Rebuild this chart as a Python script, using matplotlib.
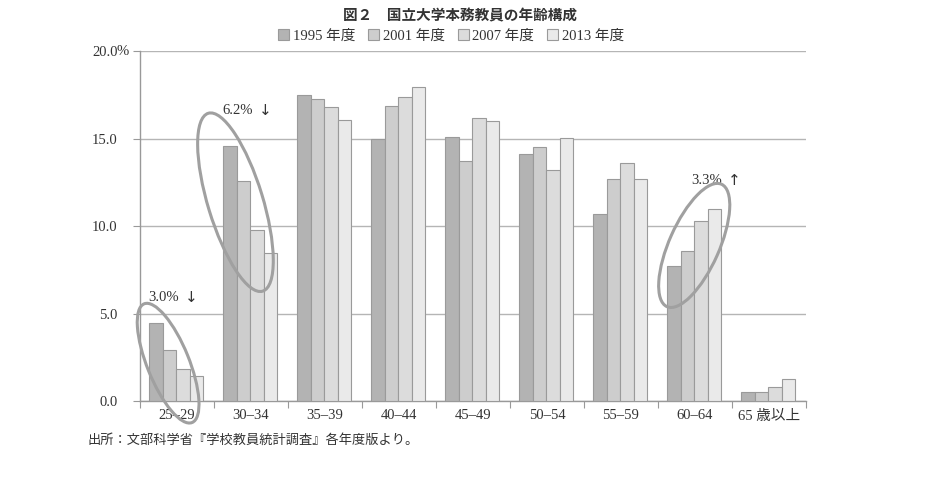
import matplotlib
matplotlib.use("Agg")
import matplotlib.pyplot as plt
import numpy as np
from matplotlib.patches import Ellipse, Patch
from matplotlib.transforms import ScaledTranslation, blended_transform_factory

plt.rcParams['font.family'] = ['Liberation Serif', 'Noto Sans CJK JP', 'DejaVu Sans']

categories = ["25–29", "30–34", "35–39", "40–44", "45–49", "50–54", "55–59", "60–64", "65 歳以上"]
series_names = ["1995 年度", "2001 年度", "2007 年度", "2013 年度"]
v1995 = [4.47, 14.60, 17.50, 15.00, 15.07, 14.15, 10.67, 7.71, 0.53]
v2001 = [2.95, 12.59, 17.26, 16.88, 13.75, 14.55, 12.67, 8.59, 0.53]
v2007 = [1.81, 9.81, 16.80, 17.37, 16.17, 13.24, 13.62, 10.29, 0.80]
v2013 = [1.45, 8.44, 16.06, 17.94, 16.02, 15.03, 12.69, 11.00, 1.26]
yticks = [0, 5, 10, 15, 20]
ytick_labels = ["0.0", "5.0", "10.0", "15.0", "20.0"]

colors = ["#b3b3b3", "#cdcdcd", "#dcdcdc", "#eaeaea"]
edge = "#9a9a9a"
tc = "#333333"

fig = plt.figure(figsize=(9.34, 4.88), dpi=100)
ax = fig.add_axes([0.1499, 0.178, 0.713, 0.717])

x = np.arange(len(categories))
bw = 0.183
for k, vals in enumerate([v1995, v2001, v2007, v2013]):
    ax.bar(x + (k - 1.5) * bw - 0.01, vals, width=bw, color=colors[k],
           edgecolor=edge, linewidth=0.8, zorder=3)

ax.set_xlim(-0.5, len(categories) - 0.5)
ax.set_ylim(0, 20)
ax.set_yticks(yticks)
ax.set_yticklabels(ytick_labels, fontsize=10.5, color=tc)
ax.yaxis.grid(True, color="#b5b5b5", linewidth=1.0, zorder=0)
ax.set_xticks(np.arange(len(categories) + 1) - 0.5)
ax.set_xticklabels([])
ax.set_xticks(x, minor=True)
ax.set_xticklabels(categories, minor=True, fontsize=10.5, color=tc)
ax.tick_params(axis='x', which='minor', length=0, pad=6)
ax.tick_params(axis='x', which='major', length=5, color="#999999", direction='out')
ax.tick_params(axis='y', length=5, color="#999999", pad=11)
for s in ["top", "right"]:
    ax.spines[s].set_visible(False)
for s in ["left", "bottom"]:
    ax.spines[s].set_color("#999999")
    ax.spines[s].set_linewidth(1.0)

# percent sign after the top tick label
pt = blended_transform_factory(ax.transAxes, ax.transData) + ScaledTranslation(-23.5 / 100, 0, fig.dpi_scale_trans)
ax.text(0, 20, "%", transform=pt, ha="left", va="center", fontsize=10.5, color=tc, clip_on=False)

# ellipses (center in data coords, size in inches)
def ell(xc, yc, w, h, ang):
    tr = fig.dpi_scale_trans + ScaledTranslation(xc, yc, ax.transData)
    e = Ellipse((0, 0), w / 100, h / 100, angle=ang, fill=False,
                edgecolor="#a0a0a0", linewidth=2.2, transform=tr, zorder=5, clip_on=False)
    ax.add_patch(e)

ell(-0.12, 2.17, 42, 128, 22)
ell(0.79, 11.37, 55, 186, 17)
ell(6.99, 8.90, 50, 134, -24)

def note(xc, yc, label, arrow):
    ax.text(xc, yc, label, ha="right", va="center", fontsize=10.5, color=tc)
    tr = ax.transData + ScaledTranslation(6 / 100, 0, fig.dpi_scale_trans)
    ax.text(xc, yc, arrow, ha="left", va="center", fontsize=11, color=tc,
            family=['DejaVu Sans'], transform=tr)

note(0.02, 5.95, "3.0%", "↓")
note(1.03, 16.6, "6.2%", "↓")
note(7.36, 12.6, "3.3%", "↑")

fig.text(0.493, 0.968, "図２　国立大学本務教員の年齢構成", ha="center", va="center",
         fontsize=10.5, fontweight="bold", family=['Noto Sans CJK JP', 'DejaVu Sans'], color=tc)

handles = [Patch(facecolor=c, edgecolor=edge, linewidth=0.8) for c in colors]
fig.legend(handles, series_names, loc="center", bbox_to_anchor=(0.483, 0.926), ncol=4,
           frameon=False, fontsize=10.5, handlelength=0.75, handleheight=0.75,
           handletextpad=0.25, columnspacing=0.9, labelcolor=tc)

fig.text(0.094, 0.098, "出所：文部科学省『学校教員統計調査』各年度版より。", ha="left", va="center",
         fontsize=9.5, family=['Noto Sans CJK JP', 'DejaVu Sans'], color=tc)

fig.savefig("out.png", dpi=100)
